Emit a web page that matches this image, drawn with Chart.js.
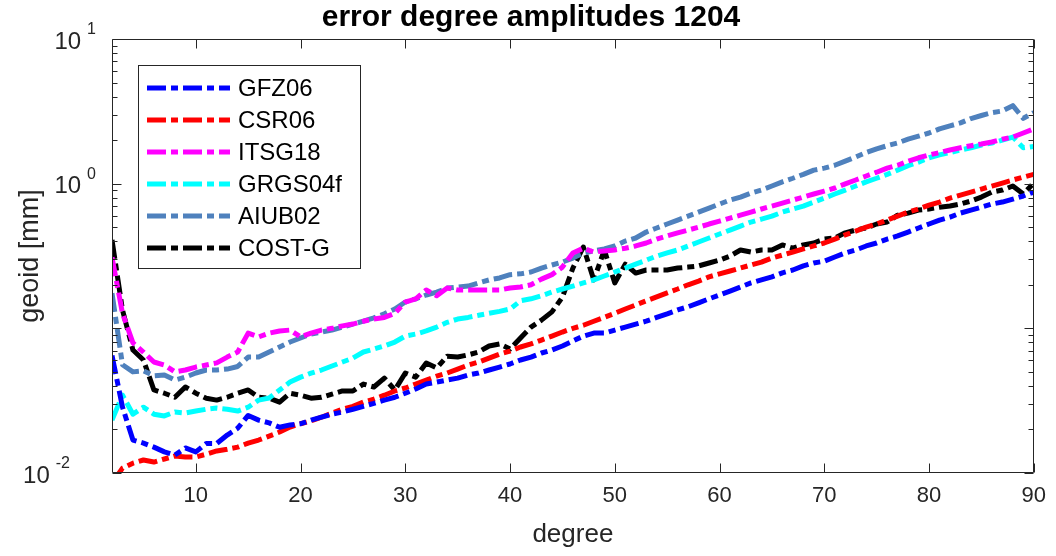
<!DOCTYPE html>
<html>
<head>
<meta charset="utf-8">
<script src="https://cdn.jsdelivr.net/npm/chart.js@4.4.1/dist/chart.umd.min.js"></script>
<style>
  html, body { margin: 0; padding: 0; background: #fff; }
</style>
</head>
<body>
<canvas id="myChart" width="1056" height="556"></canvas>
<script>

// degrees 2..90
const degrees = Array.from({length: 89}, (_, i) => i + 2);

const gfz06 = [
  0.065, 0.0286, 0.0169, 0.0161, 0.0151, 0.0140, 0.0133, 0.0149, 0.0140, 0.0160,
  0.0160, 0.0183, 0.0204, 0.0250, 0.0232, 0.0222, 0.0207, 0.0215, 0.0219, 0.0232,
  0.0243, 0.0255, 0.0264, 0.0276, 0.0289, 0.0303, 0.0319, 0.0334, 0.0356, 0.0381,
  0.0412, 0.0425, 0.0439, 0.0453, 0.0476, 0.0491, 0.0515, 0.0540, 0.0567, 0.0604,
  0.0633, 0.0675, 0.0708, 0.0755, 0.0817, 0.0884, 0.0927, 0.0927, 0.0973, 0.102,
  0.107, 0.112, 0.119, 0.126, 0.134, 0.141, 0.150, 0.160, 0.170, 0.181,
  0.193, 0.206, 0.216, 0.227, 0.242, 0.253, 0.270, 0.283, 0.291, 0.311,
  0.332, 0.348, 0.371, 0.389, 0.414, 0.435, 0.463, 0.494, 0.526, 0.560,
  0.587, 0.626, 0.657, 0.688, 0.723, 0.746, 0.782, 0.822, 0.875
];

const csr06 = [
  0.0085, 0.0108, 0.0117, 0.0123, 0.0119, 0.0125, 0.0131, 0.0129, 0.0129, 0.0135,
  0.0142, 0.0146, 0.0151, 0.0161, 0.0169, 0.0180, 0.0192, 0.0208, 0.0219, 0.0229,
  0.0243, 0.0259, 0.0276, 0.0289, 0.0309, 0.0324, 0.0345, 0.0369, 0.0387, 0.0412,
  0.0439, 0.0467, 0.0491, 0.0523, 0.0558, 0.0585, 0.0623, 0.0664, 0.0696, 0.0743,
  0.0780, 0.0830, 0.0884, 0.0943, 0.100, 0.105, 0.112, 0.119, 0.127, 0.136,
  0.145, 0.155, 0.165, 0.176, 0.187, 0.200, 0.212, 0.227, 0.238, 0.249,
  0.261, 0.274, 0.287, 0.306, 0.321, 0.337, 0.354, 0.371, 0.389, 0.414,
  0.443, 0.470, 0.500, 0.526, 0.560, 0.596, 0.636, 0.668, 0.711, 0.746,
  0.795, 0.834, 0.875, 0.918, 0.963, 1.01, 1.06, 1.11, 1.16
];

const itsg18 = [
  0.31, 0.127, 0.0793, 0.0686, 0.0585, 0.0558, 0.0500, 0.0515, 0.0540, 0.0558,
  0.0577, 0.0633, 0.0686, 0.0927, 0.0872, 0.0927, 0.0959, 0.0973, 0.0872, 0.0927,
  0.0973, 0.100, 0.104, 0.107, 0.112, 0.116, 0.119, 0.127, 0.152, 0.160,
  0.184, 0.168, 0.190, 0.184, 0.184, 0.184, 0.184, 0.184, 0.190, 0.193,
  0.200, 0.219, 0.235, 0.265, 0.332, 0.358, 0.337, 0.343, 0.348, 0.358,
  0.371, 0.389, 0.414, 0.435, 0.457, 0.478, 0.500, 0.526, 0.551, 0.578,
  0.606, 0.636, 0.668, 0.700, 0.734, 0.770, 0.808, 0.848, 0.889, 0.933,
  0.996, 1.06, 1.13, 1.20, 1.28, 1.34, 1.43, 1.51, 1.58, 1.64,
  1.71, 1.77, 1.83, 1.88, 1.94, 2.03, 2.10, 2.24, 2.39
];

const grgs04f = [
  0.0232, 0.0346, 0.0255, 0.0285, 0.0255, 0.0248, 0.0264, 0.0260, 0.0268, 0.0276,
  0.0281, 0.0276, 0.0268, 0.0285, 0.0319, 0.0330, 0.0375, 0.0425, 0.0460, 0.0490,
  0.0515, 0.0549, 0.0585, 0.0623, 0.0686, 0.0719, 0.0755, 0.0804, 0.0884, 0.0913,
  0.0959, 0.102, 0.110, 0.116, 0.119, 0.123, 0.127, 0.131, 0.136, 0.155,
  0.160, 0.168, 0.178, 0.187, 0.196, 0.206, 0.216, 0.230, 0.245, 0.261,
  0.278, 0.296, 0.316, 0.332, 0.348, 0.371, 0.395, 0.421, 0.449, 0.478,
  0.509, 0.543, 0.569, 0.596, 0.636, 0.668, 0.700, 0.746, 0.795, 0.848,
  0.903, 0.963, 1.03, 1.09, 1.16, 1.24, 1.33, 1.41, 1.51, 1.58,
  1.64, 1.71, 1.77, 1.85, 1.91, 2.00, 2.10, 1.77, 1.81
];

const aiub02 = [
  0.175, 0.056, 0.0500, 0.0508, 0.0470, 0.0476, 0.0439, 0.0460, 0.0491, 0.0515,
  0.0515, 0.0523, 0.0545, 0.0633, 0.0633, 0.0686, 0.0743, 0.0804, 0.0858, 0.0913,
  0.0943, 0.0973, 0.102, 0.107, 0.112, 0.118, 0.126, 0.136, 0.152, 0.160,
  0.170, 0.178, 0.190, 0.193, 0.196, 0.206, 0.216, 0.223, 0.235, 0.238,
  0.245, 0.261, 0.274, 0.287, 0.306, 0.332, 0.343, 0.354, 0.371, 0.401,
  0.421, 0.463, 0.494, 0.526, 0.560, 0.596, 0.636, 0.678, 0.723, 0.770,
  0.808, 0.861, 0.903, 0.963, 1.03, 1.09, 1.16, 1.24, 1.28, 1.34,
  1.43, 1.53, 1.64, 1.74, 1.83, 1.91, 2.03, 2.13, 2.24, 2.39,
  2.51, 2.63, 2.82, 2.96, 3.10, 3.18, 3.46, 2.83, 3.10
];

const costg = [
  0.408, 0.134, 0.0708, 0.0604, 0.0375, 0.0356, 0.0334, 0.0393, 0.0356, 0.0329,
  0.0319, 0.0334, 0.0356, 0.0375, 0.0334, 0.0329, 0.0309, 0.0356, 0.0345, 0.0329,
  0.0334, 0.0351, 0.0369, 0.0369, 0.0412, 0.0393, 0.0453, 0.0375, 0.0491, 0.0460,
  0.0575, 0.0532, 0.0642, 0.0633, 0.0655, 0.0686, 0.0755, 0.0780, 0.0719, 0.0858,
  0.102, 0.114, 0.130, 0.164, 0.261, 0.365, 0.216, 0.348, 0.206, 0.278,
  0.241, 0.253, 0.253, 0.253, 0.261, 0.265, 0.270, 0.283, 0.296, 0.316,
  0.348, 0.337, 0.348, 0.348, 0.377, 0.358, 0.377, 0.389, 0.414, 0.421,
  0.457, 0.478, 0.494, 0.526, 0.543, 0.606, 0.626, 0.657, 0.668, 0.688,
  0.700, 0.723, 0.758, 0.808, 0.875, 0.903, 0.963, 0.848, 1.01
];

const seriesNames = ["GFZ06", "CSR06", "ITSG18", "GRGS04f", "AIUB02", "COST-G"];
const seriesValues = [gfz06, csr06, itsg18, grgs04f, aiub02, costg];
const seriesColors = ["#0000ff", "#ff0000", "#ff00ff", "#00ffff", "#4f81bd", "#000000"];

const xTicks = [10, 20, 30, 40, 50, 60, 70, 80, 90];
const yLabelExps = [-2, 0, 1];   // decades that carry a label

const FONT = '"Liberation Sans", Helvetica, Arial, sans-serif';
const AXIS = "#262626";
const DASH = [19, 5, 7, 5];

const datasets = seriesNames.map((name, k) => ({
  label: name,
  data: seriesValues[k].map((v, i) => ({x: degrees[i], y: v})),
  borderColor: seriesColors[k],
  backgroundColor: seriesColors[k],
  borderWidth: 5,
  borderDash: DASH,
  borderCapStyle: "butt",
  borderJoinStyle: "round",
  pointRadius: 0,
  tension: 0,
  fill: false,
}));

// box, inward ticks, y labels, legend and title
const framePlugin = {
  id: "frame",
  afterDraw(chart) {
    const ctx = chart.ctx;
    const a = chart.chartArea;
    const xs = chart.scales.x;
    const ys = chart.scales.y;
    ctx.save();
    ctx.setLineDash([]);
    ctx.strokeStyle = AXIS;
    ctx.lineWidth = 1;
    ctx.beginPath();
    const L = Math.round(a.left) + 0.5, R = Math.round(a.right) - 0.5;
    const T = Math.round(a.top) + 0.5, B = Math.round(a.bottom) - 0.5;
    ctx.rect(L, T, R - L, B - T);
    xTicks.forEach(v => {
      const px = Math.round(xs.getPixelForValue(v)) + 0.5;
      ctx.moveTo(px, B); ctx.lineTo(px, B - 9);
      ctx.moveTo(px, T); ctx.lineTo(px, T + 9);
    });
    for (let e = -2; e <= 1; e++) {
      for (let m = 1; m <= 9; m++) {
        if (e === 1 && m > 1) break;
        const py = Math.round(ys.getPixelForValue(m * Math.pow(10, e))) + 0.5;
        const len = m === 1 ? 9 : 5;
        ctx.moveTo(L, py); ctx.lineTo(L + len, py);
        ctx.moveTo(R, py); ctx.lineTo(R - len, py);
      }
    }
    ctx.stroke();

    // y tick labels 10^n
    ctx.fillStyle = AXIS;
    ctx.textBaseline = "middle";
    ctx.textAlign = "right";
    yLabelExps.forEach(e => {
      const py = ys.getPixelForValue(Math.pow(10, e));
      const ex = String(e);
      const right = e < 0 ? 70 : 96;
      ctx.font = "16px " + FONT;
      const ew = ctx.measureText(ex).width;
      ctx.fillText(ex, right, py - 9);
      ctx.font = "24px " + FONT;
      ctx.fillText("10", right - ew - 6, py + 3);
    });

    // legend
    const bx = 138.5, by = 65.5, bw = 222, bh = 203;
    ctx.fillStyle = "#fff";
    ctx.fillRect(bx, by, bw, bh);
    ctx.strokeStyle = AXIS;
    ctx.lineWidth = 1;
    ctx.strokeRect(bx, by, bw, bh);
    ctx.textAlign = "left";
    ctx.font = "24px " + FONT;
    chart.data.datasets.forEach((ds, i) => {
      const ry = 88 + i * 32;
      ctx.strokeStyle = ds.borderColor;
      ctx.lineWidth = ds.borderWidth;
      ctx.lineCap = "butt";
      ctx.setLineDash(ds.borderDash);
      ctx.beginPath();
      ctx.moveTo(147, ry); ctx.lineTo(230, ry);
      ctx.stroke();
      ctx.setLineDash([]);
      ctx.fillStyle = "#000";
      ctx.fillText(ds.label, 238, ry + 1);
    });

    // title
    ctx.fillStyle = "#000";
    ctx.textAlign = "center";
    ctx.font = "bold 30px " + FONT;
    ctx.fillText("error degree amplitudes 1204", 531, 18);
    ctx.restore();
  }
};

const config = {
  type: "line",
  data: { datasets },
  options: {
    responsive: false,
    animation: false,
    layout: { padding: { top: 39, right: 16, left: 0, bottom: 0 } },
    plugins: {
      legend: { display: false },
      title: { display: false },
      tooltip: { enabled: false },
    },
    scales: {
      x: {
        type: "linear",
        min: 2,
        max: 90,
        afterBuildTicks: s => { s.ticks = xTicks.map(v => ({value: v})); },
        afterFit: s => { s.height = 83; },
        grid: { display: false, drawTicks: false },
        border: { display: false },
        ticks: {
          autoSkip: false,
          maxRotation: 0,
          padding: 10,
          color: AXIS,
          font: { family: FONT, size: 22 },
        },
        title: {
          display: true,
          text: "degree",
          color: AXIS,
          font: { family: FONT, size: 26 },
          padding: { top: 0, bottom: 6 },
        },
      },
      y: {
        type: "logarithmic",
        min: 0.01,
        max: 10,
        afterFit: s => { s.width = 112; },
        grid: { display: false, drawTicks: false },
        border: { display: false },
        ticks: { display: false },
        title: {
          display: true,
          text: "geoid [mm]",
          color: AXIS,
          font: { family: FONT, size: 27 },
          padding: { top: 14, bottom: 0 },
        },
      },
    },
  },
  plugins: [framePlugin],
};

const myChart = new Chart(document.getElementById("myChart").getContext("2d"), config);
</script>
</body>
</html>
